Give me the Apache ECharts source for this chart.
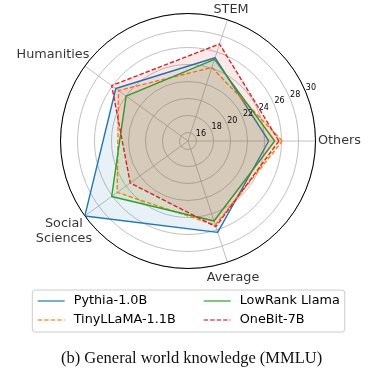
<!DOCTYPE html>
<html><head><meta charset="utf-8">
<script src="https://cdn.jsdelivr.net/npm/echarts@6/dist/echarts.min.js"></script>
<style>html,body{margin:0;padding:0;background:#fff}#c{width:378px;height:376px}</style>
</head><body><div id="c"></div>
<script>
// ---- data ----
const categories = ['Others', 'STEM', 'Humanities', 'Social\nSciences', 'Average'];
const radialTicks = [16, 18, 20, 22, 24, 26, 28, 30];
const seriesNames = ['Pythia-1.0B', 'TinyLLaMA-1.1B', 'LowRank Llama', 'OneBit-7B'];
const pythia    = [24.5, 25.3, 25.5, 30.0, 26.3];
const tinyllama = [26.1, 24.1, 25.1, 25.3, 25.4];
const lowrank   = [25.2, 25.1, 24.0, 26.1, 24.9];
const onebit    = [25.7, 27.0, 26.1, 23.4, 25.6];
const rMin = 15, rMax = 30;

// ---- styles ----
const seriesValues = [pythia, tinyllama, lowrank, onebit];
const seriesStyles = [
  { color: '#1f77b4', light: 'rgba(31,119,180,0.6)', type: 'solid' },
  { color: '#ff7f0e', light: 'rgba(255,127,14,0.6)', type: [4.5, 2] },
  { color: '#2ca02c', light: 'rgba(44,160,44,0.6)', type: 'solid' },
  { color: '#d62728', light: 'rgba(214,39,40,0.6)', type: [4.5, 2] }
];
const labelOffsets = [[24, -0.3], [3.6, -10.2], [-31.9, -11.4], [-20.9, 15.1], [5.6, 15.1]];
const sans = 'DejaVu Sans';
const textColor = '#000';
const step = 360 / categories.length;
const angleOf = i => i * step;

const chart = echarts.init(document.getElementById('c'), null, { renderer: 'canvas' });

const lineSeries = seriesValues.map((vals, k) => ({
  name: seriesNames[k],
  type: 'line',
  coordinateSystem: 'polar',
  polarIndex: 0,
  data: vals.map((v, i) => [v, angleOf(i)]).concat([[vals[0], angleOf(0)]]),
  symbol: 'none',
  clip: false,
  lineStyle: { color: seriesStyles[k].color, width: 1.4, type: seriesStyles[k].type },
  itemStyle: { color: seriesStyles[k].color },
  areaStyle: { color: seriesStyles[k].color, opacity: 0.1 },
  z: 3 + k
}));

const nameSeries = {
  type: 'scatter',
  coordinateSystem: 'polar',
  polarIndex: 0,
  symbolSize: 0,
  silent: true,
  clip: false,
  z: 10,
  data: categories.map((c, i) => ({
    value: [rMax, angleOf(i)],
    label: { offset: labelOffsets[i] }
  })),
  label: {
    show: true,
    position: 'inside',
    formatter: p => categories[p.dataIndex],
    fontFamily: sans,
    fontSize: 12.8,
    lineHeight: 15,
    color: textColor,
    align: 'center'
  }
};

chart.setOption({
  animation: false,
  backgroundColor: '#fff',
  title: {
    text: '(b) General world knowledge (MMLU)',
    left: 61, top: 350, padding: 0,
    textStyle: { fontFamily: 'Liberation Serif', fontSize: 16.5, fontWeight: 'normal', color: '#111' }
  },
  polar: [
    { center: [188, 141], radius: 127.5 },
    { center: [188, 141], radius: 127.5 }
  ],
  angleAxis: [
    {
      polarIndex: 0, type: 'value', min: 0, max: 360, interval: step,
      startAngle: 0, clockwise: false, z: 1,
      axisLine: { show: true, lineStyle: { color: '#000', width: 1 } },
      axisTick: { show: false }, axisLabel: { show: false },
      splitLine: { show: true, lineStyle: { color: '#b0b0b0', width: 0.8 } }
    },
    {
      polarIndex: 1, type: 'value', min: 0, max: 360, startAngle: 22.5, clockwise: false,
      axisLine: { show: false }, axisTick: { show: false }, axisLabel: { show: false },
      splitLine: { show: false }
    }
  ],
  radiusAxis: [
    {
      polarIndex: 0, type: 'value', min: rMin, max: rMax, z: 0,
      axisLine: { show: false },
      axisTick: { show: false, customValues: radialTicks },
      axisLabel: { show: false },
      splitLine: { show: true, lineStyle: { color: '#b0b0b0', width: 0.8 } }
    },
    {
      polarIndex: 1, type: 'value', min: rMin, max: rMax, z: 5,
      axisLine: { show: false }, axisTick: { show: false }, splitLine: { show: false },
      axisLabel: {
        show: true, customValues: radialTicks, margin: 0,
        align: 'left', verticalAlign: 'bottom',
        fontFamily: sans, fontSize: 8, color: textColor
      }
    }
  ],
  legend: {
    orient: 'vertical', left: 32.3, top: 290, height: 45,
    padding: [4, 5, 5, 4.4], itemGap: 5, itemWidth: 27, itemHeight: 14,
    borderColor: '#cccccc', borderWidth: 1, borderRadius: 3,
    backgroundColor: 'rgba(255,255,255,0.8)',
    data: seriesNames.map((n, k) => ({ name: n, lineStyle: { color: seriesStyles[k].light, width: 2 } })),
    itemStyle: { opacity: 0 },
    formatter: name => (seriesNames.indexOf(name) < 2 ? '{c1|' + name + '}' : name),
    textStyle: {
      fontFamily: sans, fontSize: 12.8, color: textColor, lineHeight: 14, padding: [0, 0, 0, 4],
      rich: { c1: { width: 124, fontFamily: sans, fontSize: 12.8, color: textColor, lineHeight: 14 } }
    }
  },
  series: lineSeries.concat([nameSeries])
});
</script>
</body></html>
